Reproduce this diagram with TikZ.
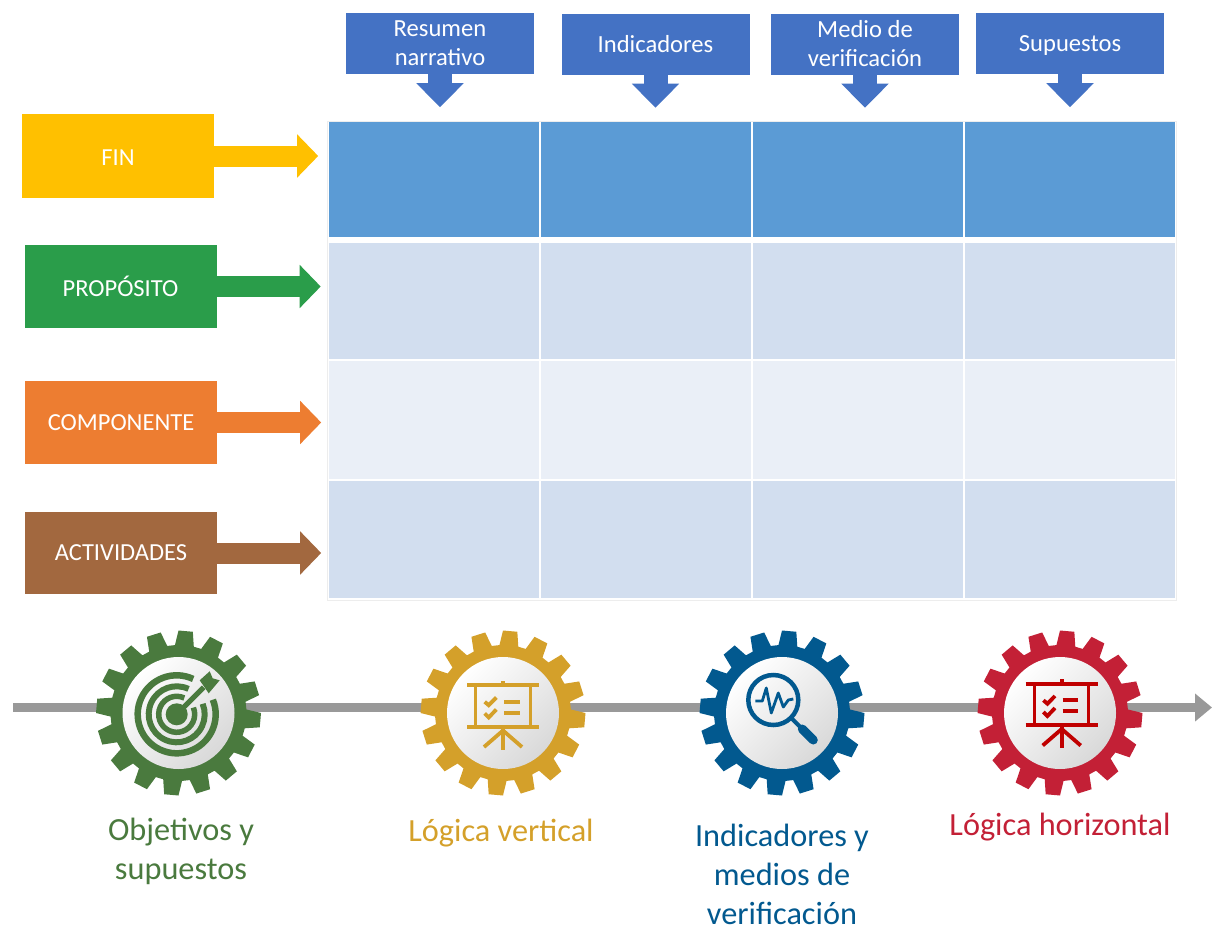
\documentclass[tikz,border=0pt]{standalone}
\usepackage{fontspec}
\setmainfont{Carlito}
\usepackage{tikz}
\usetikzlibrary{arrows.meta,matrix,positioning}
\definecolor{headblue}{HTML}{4472C4}
\definecolor{cellblue}{HTML}{5B9BD5}
\definecolor{cellmid}{HTML}{D2DEEF}
\definecolor{celllight}{HTML}{EAEFF7}
\definecolor{finyellow}{HTML}{FFC000}
\definecolor{propgreen}{HTML}{2A9D4A}
\definecolor{comporange}{HTML}{ED7D31}
\definecolor{actbrown}{HTML}{A2683F}
\definecolor{objgreen}{HTML}{4A7A3E}
\definecolor{voldgold}{HTML}{D4A02A}
\definecolor{indblue}{HTML}{02598F}
\definecolor{horred}{HTML}{C32036}
\definecolor{iconred}{HTML}{C00000}
\colorlet{linegray}{black!40}
\tikzset{
  gear/.pic={
    \begin{scope}[yscale=-1]
      \fill[pic actions] (77:68) \foreach \a in {0,22.5,...,337.5} {
        -- (\a+85-8:68) -- (\a+85-5:82.5) -- (\a+85+5:82.5) -- (\a+85+8:68)
      } -- cycle;
    \end{scope}
  },
  board/.pic={
    \begin{scope}[yscale=-1,line width=3.8pt,pic actions]
      \draw (-36,29.3) -- (36,29.3);
      \draw (-36,-12.3) -- (36,-12.3);
      \draw (0,29.3) -- (0,34);
      \draw[line width=3pt] (-27.5,29.3) -- (-27.5,-12.3) (27,29.3) -- (27,-12.3);
      \draw (0,-12.3) -- (0,-35);
      \draw (0,-16) -- (-19,-32.5);
      \draw (0,-16) -- (19,-32.5);
      \draw (-18.3,12.7) -- (-14.3,9.3) -- (-6.7,17);
      \draw (-18.3,1) -- (-14.3,-3) -- (-6.7,5);
      \draw (1,12.7) -- (16.7,12.7);
      \draw (1,1.7) -- (16.7,1.7);
    \end{scope}
  },
  target/.pic={
    \begin{scope}[yscale=-1,pic actions]
      \fill (0,0) circle[radius=11];
      \foreach \r/\w in {39/6.5,28/6,18/5.5}
        \draw[line width=\w pt] (65:\r) arc[start angle=65,end angle=382,radius=\r];
      \draw[line width=5pt] (0,0) -- (27,27);
      \fill (23,34) -- (33,43) -- (36,36) -- (43,34) -- (32,21) -- cycle;
    \end{scope}
  },
  lens/.pic={
    \begin{scope}[yscale=-1,pic actions]
      \draw[line width=4.5pt] (0,0) circle[radius=25];
      \draw[line width=4pt] (18,-18) -- (29,-29);
      \draw[line width=9pt,line cap=round] (29,-29) -- (40,-40);
      \draw[line width=2.8pt,line join=round]
        (-18,-1) -- (-11,-1) -- (-7,12) -- (-2,-13) -- (5,7) -- (10,-7) -- (15,0) -- (20,1);
    \end{scope}
  }
}
\begin{document}
\begin{tikzpicture}[
    x=1pt,y=-1pt,
    headbox/.style = {fill=headblue,text=white,minimum width=188pt,minimum height=61pt,
      inner sep=0pt,align=center,font=\fontsize{24.6}{29}\selectfont},
    rowbox/.style = {text=white,minimum width=192pt,minimum height=83pt,
      inner sep=0pt,font=\fontsize{24.5}{28}\selectfont},
    hub/.style = {circle,minimum size=112pt,inner sep=0pt,left color=white,
      right color=black!15,shading angle=45},
    caption/.style = {align=center,inner sep=0pt,font=\fontsize{32.3}{39}\selectfont},
    ca/.style = {fill=cellblue,minimum height=115pt},
    cb/.style = {fill=cellmid,minimum height=116pt},
    cc/.style = {fill=celllight,minimum height=118pt},
    cd/.style = {fill=cellmid,minimum height=117pt}
    ]
    \useasboundingbox (0,0) rectangle (1212,926);
    % Table
    \matrix[
    matrix of nodes,column sep=2pt,ampersand replacement=\&,
    draw=black!7,inner sep=1.5pt,anchor=north west,
    nodes={minimum width=210pt,inner sep=0pt,anchor=center}
    ] (m) at (327,120.5) {
      |[ca]|{} \&|[ca]|{} \&|[ca]|{} \&|[ca]|{} \\[6pt]
      |[cb]|{} \&|[cb]|{} \&|[cb]|{} \&|[cb]|{} \\[2pt]
      |[cc]|{} \&|[cc]|{} \&|[cc]|{} \&|[cc]|{} \\[2pt]
      |[cd]|{} \&|[cd]|{} \&|[cd]|{} \&|[cd]|{} \\
    };
    % Column heads
    \node[headbox] (res) at (440,43.5) {Resumen\\narrativo};
    \node[headbox] (ind) at (655.5,44) {Indicadores};
    \node[headbox] (med) at (865,44) {Medio de\\verificación};
    \node[headbox,text depth=0pt] (sup) at (1070,43.5) {Supuestos};
    \foreach \nm in {res,ind,med,sup} {
      \coordinate[below=33pt of \nm] (\nm tip);
      \draw[headblue,line width=24pt,-{Triangle[length=24pt,width=46pt]}] (\nm.south) -- (\nm tip);
    }
    % Row labels
    \node[rowbox,fill=finyellow,minimum height=84pt,text height=19pt,text depth=0pt] (fin) at (118,156) {FIN};
    \node[rowbox,fill=propgreen] (prop) at (120.5,286.5) {PROPÓSITO};
    \node[rowbox,fill=comporange] (comp) at (121,422.5) {COMPONENTE};
    \node[rowbox,fill=actbrown,minimum height=82pt] (act) at (121,553) {ACTIVIDADES};
    \foreach \nm/\col in {fin/finyellow,prop/propgreen,comp/comporange,act/actbrown} {
      \coordinate[right=104pt of \nm] (\nm tip);
      \draw[\col,line width=21pt,-{Triangle[length=21pt,width=42pt]}] (\nm.east) -- (\nm tip);
    }
    % Time line
    \coordinate (tlstart) at (13,707.5);
    \coordinate (tlend) at (1212,707.5);
    \draw[linegray,line width=9pt,-{Triangle[length=17pt,width=27pt]}] (tlstart) -- (tlend);
    % Gears
    \foreach \nm/\x/\col in {g1/178.5/objgreen,g2/503/voldgold,g3/782/indblue,g4/1060/horred} {
      \pic[fill=\col] at (\x,713) {gear};
      \node[hub] (\nm) at (\x,713) {};
    }
    \pic[draw=objgreen,fill=objgreen] at (176.7,714.3) {target};
    \pic[draw=voldgold,fill=voldgold] at (503,714.5) {board};
    \pic[draw=indblue,fill=indblue] at (773.3,700) {lens};
    \pic[draw=iconred,fill=iconred] at (1061.7,713) {board};
    % Captions
    \node[caption,text=objgreen] (capa) at (181,851) {Objetivos y\\supuestos};
    \node[caption,text=voldgold] (capb) at (501,833) {Lógica vertical};
    \node[caption,text=indblue] (capc) at (782,874.5) {Indicadores y\\medios de\\verificación};
    \node[caption,text=horred] (capd) at (1060,827) {Lógica horizontal};
\end{tikzpicture}
\end{document}
